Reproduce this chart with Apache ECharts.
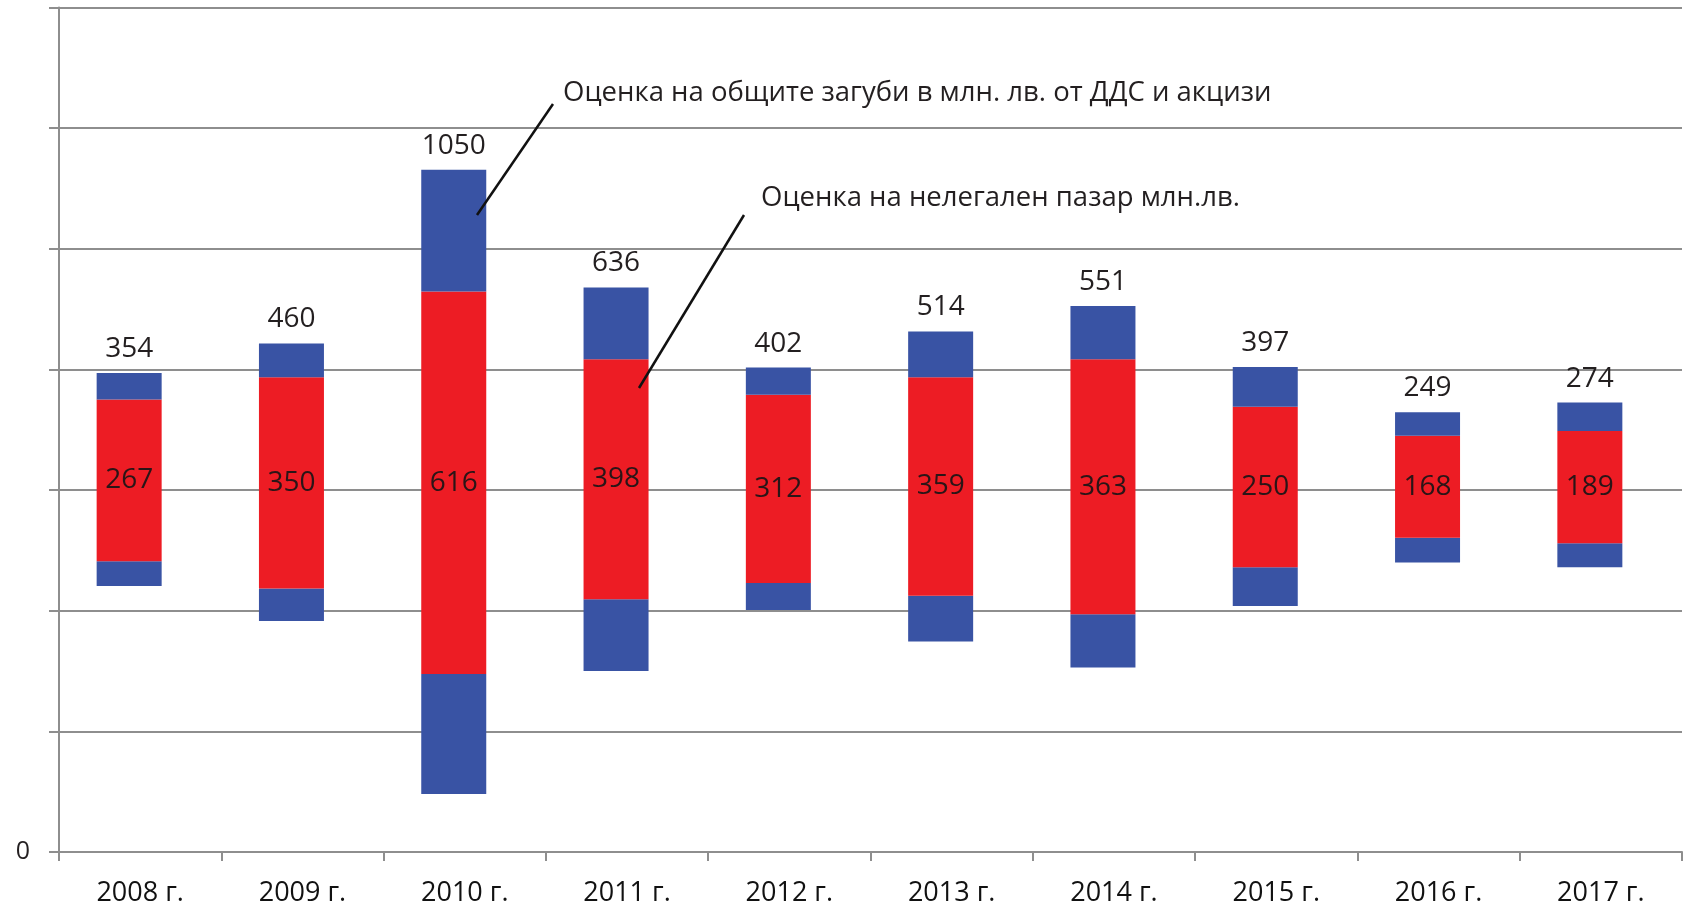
<!DOCTYPE html>
<html>
<head>
<meta charset="utf-8">
<script src="https://cdn.jsdelivr.net/npm/echarts@6/dist/echarts.min.js"></script>
<style>
html,body{margin:0;padding:0;background:#fff;}
#chart{width:1685px;height:908px;}
</style>
</head>
<body>
<div id="chart"></div>
<script>
// Categories
const years = ['2008 г.', '2009 г.', '2010 г.', '2011 г.', '2012 г.', '2013 г.', '2014 г.', '2015 г.', '2016 г.', '2017 г.'];
// Drawn segment values (млн. лв.)
const baseOffset = [441, 383, 96, 300, 401, 349, 306, 408, 480, 472];
const blueLower  = [41, 54, 199, 119, 45, 76, 88, 64, 41, 40];
const redMarket  = [268, 350, 634, 398, 312, 362, 423, 266, 169, 186];
const blueUpper  = [44, 56, 202, 119, 45, 76, 88, 66, 39, 47];
// Printed labels
const totalLabels = [354, 460, 1050, 636, 402, 514, 551, 397, 249, 274];
const redLabels   = [267, 350, 616, 398, 312, 359, 363, 250, 168, 189];
// Axis
const yMin = 0, yMax = 1400, yStep = 200;
const note1 = 'Оценка на общите загуби в млн. лв. от ДДС и акцизи';
const note2 = 'Оценка на нелегален пазар млн.лв.';

const FONT = '"Open Sans", "Noto Sans", sans-serif';
const BLUE = '#3953a4', RED = '#ed1c24', GRID = '#8e8e8e', TXT = '#231f20';

const chart = echarts.init(document.getElementById('chart'), null, {renderer: 'canvas'});
const barW = 65;
const option = {
  animation: false,
  backgroundColor: '#ffffff',
  textStyle: {fontFamily: FONT},
  grid: {left: 59, right: 3, top: 7.5, bottom: 56, containLabel: false},
  xAxis: {
    type: 'category',
    data: years,
    boundaryGap: true,
    axisLine: {show: true, lineStyle: {color: GRID, width: 2}},
    axisTick: {show: true, length: 9, lineStyle: {color: GRID, width: 2}},
    axisLabel: {margin: 28, fontSize: 27, color: '#111', fontFamily: FONT},
    splitLine: {show: false}
  },
  yAxis: {
    type: 'value',
    min: yMin, max: yMax, interval: yStep,
    axisLine: {show: true, lineStyle: {color: GRID, width: 2}},
    axisTick: {show: true, length: 10, lineStyle: {color: GRID, width: 2}},
    axisLabel: {margin: 29, fontSize: 25, color: TXT, fontFamily: FONT,
      formatter: v => (v === 0 ? '0' : '')},
    splitLine: {show: true, lineStyle: {color: GRID, width: 2}}
  },
  series: [
    {type: 'bar', name: 'base', stack: 'a', barWidth: barW, barGap: '0%', silent: true,
     itemStyle: {color: 'rgba(0,0,0,0)'}, data: baseOffset},
    {type: 'bar', name: 'low', stack: 'a', barWidth: barW, barGap: '0%',
     itemStyle: {color: BLUE}, data: blueLower},
    {type: 'bar', name: 'red', stack: 'a', barWidth: barW, barGap: '0%',
     itemStyle: {color: RED}, data: redMarket,
     label: {show: true, position: 'inside', fontSize: 28, color: '#2a1517', fontFamily: FONT,
       formatter: p => String(redLabels[p.dataIndex])}},
    {type: 'bar', name: 'high', stack: 'a', barWidth: barW, barGap: '0%',
     itemStyle: {color: BLUE}, data: blueUpper,
     label: {show: true, position: 'top', distance: 10, fontSize: 28, color: TXT, fontFamily: FONT,
       formatter: p => String(totalLabels[p.dataIndex])}},
    {type: 'bar', name: 'spacer', stack: 'b', barWidth: 22, barGap: '0%', silent: true,
     itemStyle: {color: 'rgba(0,0,0,0)'}, data: years.map(() => '-')}
  ],
  graphic: [
    {type: 'line', shape: {x1: 553, y1: 104, x2: 477, y2: 215}, style: {stroke: '#111', lineWidth: 2.5}, z: 100},
    {type: 'line', shape: {x1: 744, y1: 215, x2: 639, y2: 388}, style: {stroke: '#111', lineWidth: 2.5}, z: 100},
    {type: 'text', x: 563, y: 93, style: {text: note1, fill: TXT, fontSize: 27.5, fontFamily: FONT, verticalAlign: 'middle', align: 'left'}, z: 100},
    {type: 'text', x: 761, y: 198, style: {text: note2, fill: TXT, fontSize: 27.5, fontFamily: FONT, verticalAlign: 'middle', align: 'left'}, z: 100}
  ]
};
chart.setOption(option);
</script>
</body>
</html>
